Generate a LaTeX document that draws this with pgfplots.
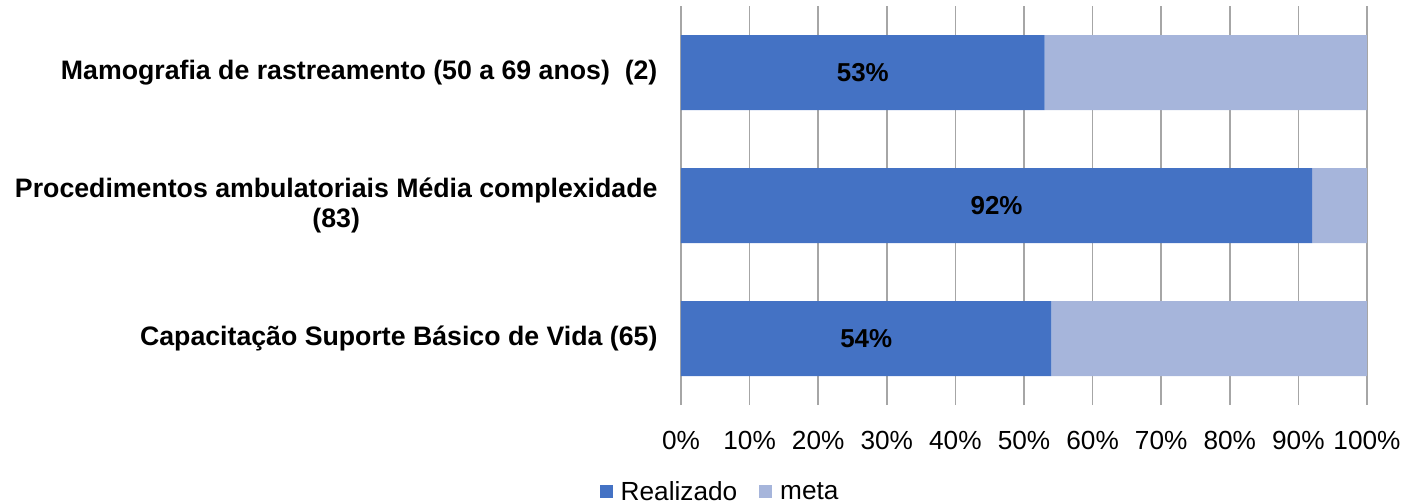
\documentclass[border=0pt]{standalone}
\usepackage{pgfplots}
\pgfplotsset{compat=1.18}
\usepackage{fontspec}
\setmainfont{Liberation Sans}
\definecolor{realc}{HTML}{4472C4}
\definecolor{metac}{HTML}{A6B5DB}
\definecolor{gridc}{HTML}{A6A6A6}
\begin{document}
\begin{tikzpicture}
\begin{axis}[
  scale only axis, width=686bp, height=399bp,
  xbar stacked, bar width=75bp,
  xmin=0, xmax=100, ymin=-0.5, ymax=2.5,
  xtick={0,10,...,100},
  xticklabel={\pgfmathprintnumber{\tick}\%},
  /pgf/number format/assume math mode=true,
  ytick={0,1,2},
  yticklabels={Capacitação Suporte Básico de Vida (65), {Procedimentos ambulatoriais Média complexidade\\(83)}, {Mamografia de rastreamento (50 a 69 anos)\ \ (2)}},
  yticklabel style={align=center, font=\fontsize{26.8}{30.5}\selectfont\bfseries, xshift=-20bp},
  xticklabel style={font=\fontsize{26.3}{30}\selectfont, yshift=-23bp},
  major tick length=0pt,
  axis line style={draw=none},
  xmajorgrids, major grid style={gridc, line width=1.5bp},
  legend style={at={(0.057,-0.218)}, anchor=center, draw=none, legend columns=2,
    font=\fontsize{26.3}{30}\selectfont,
    /tikz/every even column/.append style={column sep=20bp}},
  legend image code/.code={\fill[#1] (0bp,-6.5bp) rectangle (13bp,6.5bp); \path (19bp,0bp);},
]
\addplot[fill=realc, draw=none,
  point meta=explicit symbolic,
  nodes near coords,
  every node near coord/.append style={anchor=center, font=\fontsize{26}{30}\selectfont\bfseries, text=black}]
  coordinates {(54,0) [54\%] (92,1) [92\%] (53,2) [53\%]};
\addlegendentry{Realizado}
\addplot[fill=metac, draw=none] coordinates {(46,0) (8,1) (47,2)};
\addlegendentry{meta}
\end{axis}
\pgfresetboundingbox
\path (-681bp,-99bp) rectangle (725bp,405bp);
\end{tikzpicture}
\end{document}
